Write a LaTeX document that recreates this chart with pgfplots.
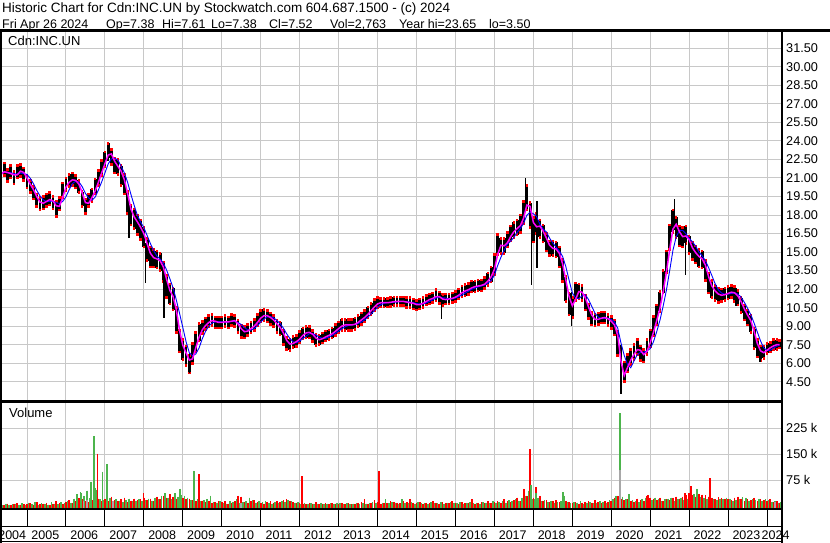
\documentclass[border=0pt]{standalone}
\usepackage{pgfplots}
\pgfplotsset{compat=1.18}
\usepackage{pgfplotstable}
\usepackage{fontspec}
\setmainfont{Liberation Sans}
\definecolor{gridgray}{RGB}{200,200,200}
\definecolor{vred}{RGB}{255,0,0}
\definecolor{vgreen}{RGB}{76,180,76}
\definecolor{vgray}{RGB}{168,168,168}
\definecolor{magline}{RGB}{255,0,255}
\definecolor{blueline}{RGB}{0,0,255}

\pgfplotstableread{
t cl e m1 m2
2004.333 21.3 0.5 21.3 21.3
2004.417 21.7 0.5 21.5 21.5
2004.500 21.2 0.5 21.45 21.4
2004.583 21.5 0.5 21.35 21.43
2004.667 21.0 0.5 21.25 21.35
2004.750 21.5 0.5 21.25 21.3
2004.833 21.6 0.5 21.55 21.4
2004.917 21.3 0.5 21.45 21.35
2005.000 20.7 0.5 21.0 21.28
2005.083 20.3 0.5 20.5 20.98
2005.167 19.8 0.5 20.05 20.53
2005.250 19.2 0.5 19.5 20.0
2005.333 18.9 0.5 19.05 19.55
2005.417 19.0 0.5 18.95 19.23
2005.500 19.2 0.5 19.1 19.08
2005.583 19.3 0.5 19.25 19.1
2005.667 19.0 0.5 19.15 19.13
2005.750 18.5 0.6 18.75 19.0
2005.833 18.9 0.5 18.7 18.93
2005.917 20.0 0.6 19.45 19.1
2006.000 20.5 0.5 20.25 19.48
2006.083 20.8 0.5 20.65 20.05
2006.167 20.9 0.5 20.85 20.55
2006.250 20.7 0.5 20.8 20.73
2006.333 20.3 0.5 20.5 20.68
2006.417 19.3 0.6 19.8 20.3
2006.500 18.7 0.6 19.0 19.75
2006.583 19.2 0.5 18.95 19.38
2006.667 19.6 0.5 19.4 19.2
2006.750 20.3 0.6 19.95 19.45
2006.833 21.0 0.6 20.65 20.03
2006.917 21.8 0.6 21.4 20.68
2007.000 22.5 0.6 22.15 21.4
2007.083 23.2 0.6 22.85 22.13
2007.167 22.7 0.6 22.95 22.55
2007.250 22.0 0.6 22.35 22.6
2007.333 21.9 0.6 21.95 22.45
2007.417 21.2 0.8 21.55 21.95
2007.500 20.5 0.8 20.85 21.4
2007.583 19.0 0.9 19.75 20.65
2007.667 18.0 0.8 18.5 19.68
2007.750 17.7 0.8 17.85 18.8
2007.833 17.2 0.8 17.45 17.98
2007.917 16.8 0.8 17.0 17.43
2008.000 16.2 0.8 16.5 16.98
2008.083 15.2 0.9 15.7 16.35
2008.167 14.6 0.8 14.9 15.7
2008.250 14.5 0.7 14.55 15.13
2008.333 14.4 0.7 14.45 14.68
2008.417 14.2 0.7 14.3 14.43
2008.500 13.4 0.8 13.8 14.13
2008.583 12.2 0.9 12.8 13.55
2008.667 11.6 0.8 11.9 12.85
2008.750 11.2 0.9 11.4 12.1
2008.833 9.5 1.0 10.35 11.13
2008.917 7.8 0.9 8.65 10.03
2009.000 7.1 0.8 7.45 8.9
2009.083 6.6 0.8 6.85 7.75
2009.167 5.9 0.7 6.25 6.85
2009.250 6.8 0.8 6.35 6.6
2009.333 7.7 0.8 7.25 6.75
2009.417 8.5 0.7 8.1 7.23
2009.500 8.9 0.5 8.7 7.98
2009.583 9.2 0.45 9.05 8.58
2009.667 9.4 0.45 9.3 9.0
2009.750 9.5 0.45 9.45 9.25
2009.833 9.3 0.45 9.4 9.35
2009.917 9.3 0.45 9.3 9.38
2010.000 9.3 0.45 9.3 9.35
2010.083 9.4 0.45 9.35 9.33
2010.167 9.3 0.45 9.35 9.33
2010.250 9.5 0.45 9.4 9.38
2010.333 9.4 0.45 9.45 9.4
2010.417 9.0 0.5 9.2 9.3
2010.500 8.6 0.5 8.8 9.13
2010.583 8.5 0.45 8.55 8.88
2010.667 8.7 0.45 8.6 8.7
2010.750 8.9 0.45 8.8 8.68
2010.833 9.1 0.45 9.0 8.8
2010.917 9.5 0.45 9.3 9.05
2011.000 9.8 0.45 9.65 9.33
2011.083 9.9 0.45 9.85 9.58
2011.167 9.8 0.45 9.85 9.75
2011.250 9.6 0.45 9.7 9.78
2011.333 9.4 0.45 9.5 9.68
2011.417 9.0 0.5 9.2 9.45
2011.500 8.8 0.5 8.9 9.2
2011.583 8.1 0.6 8.45 8.83
2011.667 7.6 0.5 7.85 8.38
2011.750 7.5 0.45 7.55 8.0
2011.833 7.7 0.45 7.6 7.73
2011.917 7.8 0.45 7.75 7.65
2012.000 8.1 0.45 7.95 7.78
2012.083 8.4 0.45 8.25 8.0
2012.167 8.5 0.45 8.45 8.2
2012.250 8.5 0.45 8.5 8.38
2012.333 8.2 0.45 8.35 8.4
2012.417 7.9 0.45 8.05 8.28
2012.500 7.9 0.4 7.9 8.13
2012.583 8.05 0.4 7.98 8.01
2012.667 8.2 0.4 8.13 8.01
2012.750 8.3 0.4 8.25 8.11
2012.833 8.45 0.4 8.38 8.25
2012.917 8.7 0.45 8.58 8.41
2013.000 8.9 0.45 8.8 8.59
2013.083 9.1 0.45 9.0 8.79
2013.167 9.1 0.45 9.1 8.95
2013.250 9.1 0.45 9.1 9.05
2013.333 9.1 0.45 9.1 9.1
2013.417 9.2 0.45 9.15 9.13
2013.500 9.4 0.45 9.3 9.2
2013.583 9.6 0.45 9.5 9.33
2013.667 9.8 0.45 9.7 9.5
2013.750 10.1 0.45 9.95 9.73
2013.833 10.4 0.45 10.25 9.98
2013.917 10.7 0.45 10.55 10.25
2014.000 10.9 0.4 10.8 10.53
2014.083 10.9 0.35 10.9 10.73
2014.167 10.9 0.35 10.9 10.85
2014.250 10.9 0.35 10.9 10.9
2014.333 10.95 0.35 10.93 10.91
2014.417 11.0 0.35 10.98 10.94
2014.500 11.0 0.35 11.0 10.96
2014.583 11.0 0.35 11.0 10.99
2014.667 11.0 0.35 11.0 11.0
2014.750 10.9 0.4 10.95 10.98
2014.833 10.9 0.4 10.9 10.95
2014.917 10.8 0.4 10.85 10.9
2015.000 10.7 0.4 10.75 10.83
2015.083 10.8 0.4 10.75 10.8
2015.167 10.9 0.4 10.85 10.8
2015.250 11.1 0.4 11.0 10.88
2015.333 11.2 0.4 11.15 11.0
2015.417 11.3 0.4 11.25 11.13
2015.500 11.5 0.45 11.4 11.28
2015.583 11.3 0.45 11.4 11.33
2015.667 11.1 0.45 11.2 11.3
2015.750 11.2 0.4 11.15 11.28
2015.833 11.2 0.4 11.2 11.2
2015.917 11.3 0.4 11.25 11.2
2016.000 11.4 0.4 11.35 11.28
2016.083 11.6 0.4 11.5 11.38
2016.167 11.8 0.45 11.7 11.53
2016.250 11.9 0.45 11.85 11.68
2016.333 12.0 0.45 11.95 11.83
2016.417 12.2 0.45 12.1 11.98
2016.500 12.2 0.45 12.2 12.08
2016.583 12.3 0.45 12.25 12.18
2016.667 12.3 0.45 12.3 12.25
2016.750 12.5 0.45 12.4 12.33
2016.833 12.8 0.5 12.65 12.48
2016.917 13.2 0.6 13.0 12.7
2017.000 14.0 0.8 13.6 13.13
2017.083 15.6 0.8 14.8 13.9
2017.167 15.5 0.6 15.55 14.58
2017.250 15.5 0.6 15.5 15.15
2017.333 16.0 0.6 15.75 15.65
2017.417 16.5 0.6 16.25 15.88
2017.500 16.8 0.6 16.65 16.2
2017.583 17.0 0.6 16.9 16.58
2017.667 17.3 0.7 17.15 16.9
2017.750 18.2 0.9 17.75 17.33
2017.833 19.4 1.0 18.8 17.98
2017.917 18.0 1.0 18.7 18.23
2018.000 16.8 1.0 17.4 18.1
2018.083 17.3 0.8 17.05 17.88
2018.167 16.9 0.7 17.1 17.25
2018.250 16.5 0.7 16.7 16.88
2018.333 15.8 0.7 16.15 16.63
2018.417 15.3 0.6 15.55 16.13
2018.500 15.3 0.6 15.3 15.73
2018.583 15.2 0.6 15.25 15.4
2018.667 14.6 0.8 14.9 15.1
2018.750 13.5 0.9 14.05 14.65
2018.833 12.0 1.0 12.75 13.83
2018.917 10.8 0.9 11.4 12.73
2019.000 10.5 0.8 10.65 11.7
2019.083 11.8 0.7 11.15 11.28
2019.167 11.8 0.6 11.8 11.23
2019.250 11.7 0.6 11.75 11.45
2019.333 10.9 0.6 11.3 11.55
2019.417 10.2 0.6 10.55 11.15
2019.500 9.6 0.5 9.9 10.6
2019.583 9.5 0.5 9.55 10.05
2019.667 9.6 0.45 9.55 9.73
2019.750 9.7 0.45 9.65 9.6
2019.833 9.7 0.45 9.7 9.63
2019.917 9.5 0.45 9.6 9.63
2020.000 9.3 0.5 9.4 9.55
2020.083 8.9 0.6 9.1 9.35
2020.167 7.6 1.0 8.25 8.83
2020.250 4.7 1.0 6.15 7.63
2020.333 5.3 0.8 5.0 6.63
2020.417 6.0 0.7 5.65 5.9
2020.500 6.5 0.6 6.25 5.63
2020.583 6.9 0.6 6.7 6.18
2020.667 7.3 0.6 7.1 6.68
2020.750 6.8 0.6 7.05 6.88
2020.833 6.6 0.5 6.7 6.9
2020.917 7.3 0.6 6.95 7.0
2021.000 8.0 0.7 7.65 7.18
2021.083 9.0 0.8 8.5 7.73
2021.167 9.9 0.8 9.45 8.55
2021.250 11.0 0.8 10.45 9.48
2021.333 12.6 0.9 11.8 10.63
2021.417 14.2 0.9 13.4 11.93
2021.500 16.2 1.0 15.2 13.5
2021.583 17.5 0.9 16.85 15.13
2021.667 17.0 0.8 17.25 16.23
2021.750 16.3 0.8 16.65 16.75
2021.833 16.2 0.8 16.25 16.75
2021.917 16.4 0.7 16.3 16.48
2022.000 15.6 0.7 16.0 16.13
2022.083 15.1 0.7 15.35 15.83
2022.167 14.8 0.7 14.95 15.48
2022.250 14.5 0.7 14.65 15.0
2022.333 14.4 0.7 14.45 14.7
2022.417 13.5 0.8 13.95 14.3
2022.500 12.5 0.8 13.0 13.73
2022.583 12.0 0.7 12.25 13.1
2022.667 11.7 0.6 11.85 12.43
2022.750 11.5 0.6 11.6 11.93
2022.833 11.5 0.5 11.5 11.68
2022.917 11.6 0.5 11.55 11.58
2023.000 11.7 0.5 11.65 11.58
2023.083 11.8 0.5 11.75 11.65
2023.167 11.6 0.6 11.7 11.68
2023.250 11.3 0.6 11.45 11.6
2023.333 10.7 0.6 11.0 11.35
2023.417 10.1 0.6 10.4 10.93
2023.500 9.7 0.6 9.9 10.45
2023.583 9.2 0.7 9.45 9.93
2023.667 8.0 0.8 8.6 9.25
2023.750 7.2 0.7 7.6 8.53
2023.833 6.8 0.6 7.0 7.8
2023.917 6.9 0.5 6.85 7.23
2024.000 7.2 0.4 7.05 7.03
2024.083 7.3 0.4 7.25 7.05
2024.167 7.5 0.4 7.4 7.23
2024.250 7.5 0.4 7.5 7.38
2024.320 7.52 0.3 7.51 7.46
}\price

\pgfplotstableread{
t c ep em
2007.08 23.0 0.65 0.6
2007.62 17.5 1.0 1.4
2008.05 14.5 1.2 2.0
2008.52 11.5 1.5 1.8
2009.17 6.0 0.8 0.8
2015.65 10.8 0.7 1.2
2017.79 19.8 1.2 1.0
2017.96 16.5 2.5 4.15
2018.09 16.5 2.6 2.8
2018.98 10.5 1.3 1.5
2020.25 5.5 2.0 2.0
2021.62 17.8 1.5 1.0
2021.91 15.0 1.5 1.85
2023.20 11.3 0.8 0.7
2023.82 6.8 0.5 0.7
}\spikes

\pgfplotstableread{
t r g
2004.333 6 5
2004.417 4 7
2004.500 8 4
2004.583 5 6
2004.667 7 8
2004.750 9 5
2004.833 5 9
2004.917 6 4
2005.000 7 10
2005.083 9 6
2005.167 5 12
2005.250 12 5
2005.333 6 9
2005.417 8 7
2005.500 10 5
2005.583 5 11
2005.667 7 8
2005.750 14 6
2005.833 9 12
2005.917 6 9
2006.000 12 15
2006.083 18 10
2006.167 10 22
2006.250 15 35
2006.333 24 40
2006.417 20 30
2006.500 14 45
2006.583 12 25
2006.667 18 30
2006.750 15 48
2006.833 22 20
2006.917 16 18
2007.000 22 14
2007.083 15 25
2007.167 28 12
2007.250 18 20
2007.333 14 16
2007.417 20 12
2007.500 25 18
2007.583 12 22
2007.667 16 14
2007.750 22 15
2007.833 18 20
2007.917 20 16
2008.000 25 18
2008.083 18 22
2008.167 22 16
2008.250 15 25
2008.333 28 20
2008.417 20 30
2008.500 30 38
2008.583 25 25
2008.667 35 20
2008.750 28 35
2008.833 22 28
2008.917 30 32
2009.000 25 30
2009.083 20 25
2009.167 22 18
2009.250 18 22
2009.333 15 20
2009.417 22 14
2009.500 16 18
2009.583 12 20
2009.667 14 30
2009.750 10 12
2009.833 12 10
2009.917 15 14
2010.000 12 10
2010.083 15 8
2010.167 8 14
2010.250 10 12
2010.333 14 20
2010.417 30 10
2010.500 28 12
2010.583 12 15
2010.667 10 25
2010.750 15 18
2010.833 18 10
2010.917 12 14
2011.000 10 12
2011.083 8 14
2011.167 12 10
2011.250 15 8
2011.333 10 12
2011.417 14 10
2011.500 12 15
2011.583 18 12
2011.667 20 18
2011.750 15 14
2011.833 12 10
2011.917 10 12
2012.000 10 8
2012.083 8 10
2012.167 6 7
2012.250 10 9
2012.333 8 6
2012.417 12 8
2012.500 6 10
2012.583 8 6
2012.667 10 8
2012.750 7 9
2012.833 9 7
2012.917 8 10
2013.000 8 10
2013.083 10 7
2013.167 7 9
2013.250 9 6
2013.333 6 8
2013.417 8 10
2013.500 10 7
2013.583 12 9
2013.667 20 8
2013.750 8 10
2013.833 10 12
2013.917 18 9
2014.000 12 8
2014.083 8 10
2014.167 10 20
2014.250 9 9
2014.333 14 12
2014.417 12 10
2014.500 10 8
2014.583 9 20
2014.667 15 10
2014.750 12 9
2014.833 20 12
2014.917 10 8
2015.000 10 12
2015.083 12 9
2015.167 8 10
2015.250 10 8
2015.333 9 12
2015.417 14 10
2015.500 10 9
2015.583 8 12
2015.667 12 8
2015.750 10 10
2015.833 9 12
2015.917 15 9
2016.000 10 9
2016.083 8 12
2016.167 12 8
2016.250 9 10
2016.333 10 12
2016.417 20 9
2016.500 8 10
2016.583 10 8
2016.667 12 12
2016.750 9 10
2016.833 14 9
2016.917 10 14
2017.000 12 10
2017.083 15 12
2017.167 10 14
2017.250 20 10
2017.333 14 18
2017.417 12 15
2017.500 18 20
2017.583 25 14
2017.667 15 25
2017.750 40 30
2017.833 30 45
2017.917 20 20
2018.000 25 20
2018.083 20 25
2018.167 30 15
2018.250 15 18
2018.333 18 12
2018.417 12 15
2018.500 15 10
2018.583 18 12
2018.667 12 14
2018.750 20 30
2018.833 15 12
2018.917 12 10
2019.000 10 12
2019.083 12 10
2019.167 8 14
2019.250 10 8
2019.333 12 10
2019.417 14 12
2019.500 10 9
2019.583 18 10
2019.667 12 14
2019.750 10 12
2019.833 15 10
2019.917 12 18
2020.000 15 20
2020.083 25 30
2020.167 30 25
2020.250 22 28
2020.333 18 20
2020.417 20 35
2020.500 15 18
2020.583 12 15
2020.667 22 12
2020.750 18 20
2020.833 15 25
2020.917 30 14
2021.000 25 18
2021.083 22 25
2021.167 18 22
2021.250 25 15
2021.333 15 20
2021.417 20 22
2021.500 18 25
2021.583 25 15
2021.667 28 20
2021.750 22 25
2021.833 28 18
2021.917 32 22
2022.000 38 28
2022.083 32 36
2022.167 28 32
2022.250 36 26
2022.333 34 24
2022.417 32 22
2022.500 28 26
2022.583 24 20
2022.667 20 18
2022.750 26 22
2022.833 24 20
2022.917 22 24
2023.000 20 22
2023.083 18 15
2023.167 25 18
2023.250 28 20
2023.333 22 26
2023.417 15 24
2023.500 20 15
2023.583 18 20
2023.667 24 18
2023.750 15 22
2023.833 20 15
2023.917 18 20
2024.000 15 18
2024.083 20 12
2024.167 12 15
2024.250 15 10
2024.320 10 12
}\vol

\pgfplotstableread{
t v
2006.81 151
2007.99 38
2009.42 93
2012.05 87
2014.03 102
2017.75 50
2017.91 165
2018.06 55
2020.94 32
2021.90 38
2022.05 58
2022.54 81
}\redspk

\pgfplotstableread{
t v
2006.40 38
2006.64 71
2006.72 202
2006.76 52
2006.94 99
2007.05 122
2008.80 37
2008.93 50
2009.28 102
2017.93 61
2018.07 38
2018.76 41
2020.22 269
2022.20 50
}\greenspk

\pgfplotstableread{
t v
2006.45 15
2006.55 18
2007.20 15
2010.50 10
2020.22 104
2024.20 12
}\grayspk

\pgfplotsset{
  nomark/.style={only marks, mark=*, mark size=0pt, mark options={draw=none, fill=none}},
}

\begin{document}
\begin{tikzpicture}[x=1pt,y=1pt]
\useasboundingbox (0,0) rectangle (830,543);

% ---------- price panel ----------
\begin{axis}[
  at={(2pt,142pt)}, anchor=south west,
  scale only axis, width=779pt, height=369pt,
  xmin=2004.358, xmax=2024.358,
  ymin=2.94, ymax=32.82,
  axis line style={draw=none},
  xtick={2005,2006,2007,2008,2009,2010,2011,2012,2013,2014,2015,2016,2017,2018,2019,2020,2021,2022,2023,2024},
  xticklabels={},
  ytick={4.5,6,7.5,9,10.5,12,13.5,15,16.5,18,19.5,21,22.5,24,25.5,27,28.5,30,31.5},
  yticklabel pos=right,
  /pgf/number format/assume math mode=true,
  yticklabel style={anchor=west, inner sep=0pt, xshift=5pt,
    font=\fontsize{12.7}{14}\selectfont,
    /pgf/number format/fixed, /pgf/number format/fixed zerofill,
    /pgf/number format/precision=2},
  major tick length=0pt,
  tick style={draw=none},
  grid=major, major grid style={gridgray, line width=1pt},
]
\addplot[nomark,
  error bars/.cd, y dir=both, y explicit,
  error bar style={black, line width=2.9pt},
  error mark=square*,
  error mark options={vred, fill=vred, draw=vred, mark size=0.8pt, line width=0pt}]
  table[x=t, y=cl, y error=e] {\price};
\addplot[nomark,
  error bars/.cd, y dir=both, y explicit,
  error bar style={black, line width=1.3pt}, error mark=none]
  table[x=t, y=c, y error plus=ep, y error minus=em] {\spikes};
\addplot[blueline, line width=0.9pt, mark=none] table[x=t, y=m2] {\price};
\addplot[magline, line width=1.5pt, mark=none] table[x=t, y=m1] {\price};
\end{axis}

% ---------- volume panel ----------
\begin{axis}[
  at={(2pt,34pt)}, anchor=south west,
  scale only axis, width=779pt, height=106pt,
  xmin=2004.358, xmax=2024.358,
  ymin=-7.8, ymax=298,
  axis line style={draw=none},
  xtick={2005,2006,2007,2008,2009,2010,2011,2012,2013,2014,2015,2016,2017,2018,2019,2020,2021,2022,2023,2024},
  xticklabels={},
  ytick={75,150,225},
  yticklabels={75 k,150 k,225 k},
  yticklabel pos=right,
  yticklabel style={anchor=west, inner sep=0pt, xshift=5pt,
    font=\fontsize{12.7}{14}\selectfont},
  major tick length=0pt,
  tick style={draw=none},
  grid=major, major grid style={gridgray, line width=1pt},
]
\addplot[nomark,
  error bars/.cd, y dir=minus, y fixed=400,
  error bar style={vred, line width=1.6pt}, error mark=none]
  table[x=t, y=r] {\vol};
\addplot[nomark, xshift=1.6pt,
  error bars/.cd, y dir=minus, y fixed=400,
  error bar style={vgreen, line width=1.6pt}, error mark=none]
  table[x=t, y=g] {\vol};
\addplot[nomark,
  error bars/.cd, y dir=minus, y fixed=400,
  error bar style={vred, line width=1.8pt}, error mark=none]
  table[x=t, y=v] {\redspk};
\addplot[nomark,
  error bars/.cd, y dir=minus, y fixed=400,
  error bar style={vgreen, line width=1.8pt}, error mark=none]
  table[x=t, y=v] {\greenspk};
\addplot[nomark,
  error bars/.cd, y dir=minus, y fixed=400,
  error bar style={vgray, line width=1.8pt}, error mark=none]
  table[x=t, y=v] {\grayspk};
\end{axis}

% ---------- date band ----------
\begin{axis}[
  at={(2pt,16.3pt)}, anchor=south west,
  scale only axis, width=779pt, height=17.2pt,
  xmin=2004.358, xmax=2024.358,
  ymin=0, ymax=1,
  axis line style={draw=none},
  xtick={2005,2006,2007,2008,2009,2010,2011,2012,2013,2014,2015,2016,2017,2018,2019,2020,2021,2022,2023,2024},
  xticklabels={},
  ytick=\empty,
  major tick length=0pt,
  tick style={draw=none},
  grid=major, major grid style={black, line width=1pt},
  extra x ticks={2004.62,2005.47,2006.47,2007.47,2008.47,2009.47,2010.47,2011.47,2012.47,2013.47,2014.47,2015.47,2016.47,2017.47,2018.47,2019.47,2020.47,2021.47,2022.47,2023.47,2024.22},
  extra x tick labels={2004,2005,2006,2007,2008,2009,2010,2011,2012,2013,2014,2015,2016,2017,2018,2019,2020,2021,2022,2023,2024},
  extra x tick style={grid=none, major tick length=0pt, tick style={draw=none},
    xticklabel style={anchor=north, inner sep=0pt, yshift=-3.5pt,
      font=\fontsize{12.5}{14}\selectfont}},
]
\end{axis}

% ---------- frame lines ----------
\draw[line width=2.7pt] (0,512.3) -- (830,512.3);
\draw[line width=2pt] (1,513) -- (1,0);
\draw[line width=2pt] (782,513) -- (782,0);
\draw[line width=1.1pt] (0,142) -- (782,142);
\draw[line width=1.1pt] (0,140.2) -- (782,140.2);
\draw[line width=2pt] (0,33.5) -- (782,33.5);
\draw[line width=1pt] (0,16.3) -- (782,16.3);
\draw[line width=1.5pt] (0,1.5) -- (782,1.5);

% ---------- texts ----------
\node[anchor=base west, inner sep=0pt, font=\fontsize{13.5}{15}\selectfont] at (2,530) {Historic Chart for Cdn:INC.UN by Stockwatch.com 604.687.1500 - (c) 2024};
\begin{scope}[every node/.style={anchor=base west, inner sep=0pt, font=\fontsize{12.5}{15}\selectfont}]
\node at (2,514.5) {Fri Apr 26 2024};
\node at (106,514.5) {Op=7.38};
\node at (162,514.5) {Hi=7.61};
\node at (211,514.5) {Lo=7.38};
\node at (269,514.5) {Cl=7.52};
\node at (330,514.5) {Vol=2,763};
\node at (399,514.5) {Year hi=23.65};
\node at (489,514.5) {lo=3.50};
\end{scope}
\node[anchor=base west, inner sep=0pt, font=\fontsize{13}{15}\selectfont] at (8,497) {Cdn:INC.UN};
\node[anchor=base west, inner sep=0pt, font=\fontsize{13}{15}\selectfont] at (9,125) {Volume};
\end{tikzpicture}
\end{document}
